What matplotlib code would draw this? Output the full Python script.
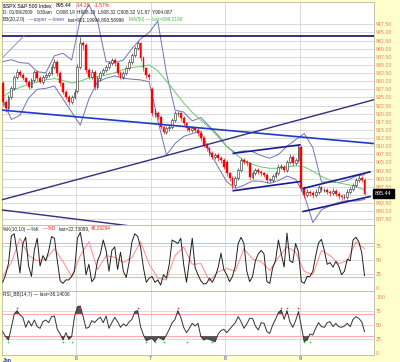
import matplotlib
matplotlib.use('Agg')
import matplotlib.pyplot as plt
import matplotlib.transforms as mtransforms
from matplotlib.ticker import FixedLocator, FormatStrFormatter
import numpy as np

# 15-minute bars, Jan 5 - Jan 9 2009 (26 bars per day)
opens = [929.3, 923.7, 921.6, 925.2, 927.8, 931.4, 932.9, 931.9, 930.9, 929.9,
         928.3, 930.4, 932.9, 930.9, 929.9, 931.4, 931.9, 932.4, 934.5, 936.0,
         932.4, 929.3, 926.8, 925.2, 923.7, 925.2, 927.0, 934.5, 941.6, 941.1,
         933.4, 931.4, 932.9, 928.3, 930.9, 932.4, 933.4, 934.5, 935.5, 936.5,
         935.5, 932.4, 931.4, 932.4, 934.0, 936.0, 938.1, 940.1, 941.6, 937.0,
         934.0, 931.9, 927.5, 920.1, 920.1, 919.1, 916.0, 914.5, 915.5, 916.0,
         918.1, 920.1, 920.1, 918.6, 917.0, 915.5, 915.0, 915.5, 915.0, 914.0,
         912.4, 910.4, 909.3, 907.8, 906.8, 907.3, 906.3, 905.7, 905.0, 901.6,
         900.1, 898.1, 900.1, 902.7, 905.7, 905.2, 904.7, 900.6, 901.6, 902.7,
         902.2, 901.6, 901.1, 899.6, 899.6, 900.8, 901.6, 903.7, 903.7, 902.7,
         905.2, 906.8, 904.7, 905.7, 909.9, 897.0, 895.0, 896.0, 895.5, 895.0,
         896.0, 897.3, 896.5, 896.5, 896.0, 895.5, 896.3, 895.3, 894.7, 894.3,
         894.5, 896.0, 896.7, 898.1, 899.6, 900.1, 899.6]
highs = [930.0, 924.3, 925.8, 928.5, 932.0, 933.6, 933.4, 932.5, 931.4, 930.5,
         931.0, 933.5, 933.3, 931.5, 932.0, 932.6, 933.0, 935.2, 936.8, 936.5,
         933.0, 929.8, 927.4, 925.8, 925.9, 927.5, 935.3, 943.7, 942.5, 941.6,
         934.0, 933.6, 933.3, 931.6, 933.0, 934.0, 935.1, 936.2, 937.2, 937.0,
         936.0, 933.0, 933.1, 934.6, 936.7, 938.8, 940.9, 942.3, 942.0, 937.6,
         934.5, 932.6, 928.2, 921.4, 920.8, 919.6, 916.6, 916.2, 916.7, 918.8,
         920.9, 920.8, 920.5, 919.2, 917.5, 916.1, 916.2, 916.0, 915.6, 914.6,
         913.0, 911.0, 909.9, 908.4, 908.0, 907.8, 906.9, 906.3, 905.7, 902.2,
         900.7, 900.8, 903.4, 906.5, 906.3, 905.8, 905.2, 902.3, 903.3, 903.2,
         902.8, 902.1, 901.7, 900.3, 901.4, 902.3, 904.5, 904.4, 904.2, 905.9,
         907.5, 907.3, 906.4, 910.6, 910.3, 897.8, 896.7, 896.6, 896.2, 896.7,
         898.0, 897.9, 897.2, 897.1, 896.6, 897.0, 896.9, 895.9, 895.3, 895.2,
         896.7, 897.4, 898.8, 900.3, 901.2, 900.8, 900.2]
lows = [922.5, 920.6, 921.0, 924.6, 927.2, 930.7, 931.2, 930.3, 929.2, 927.6,
        927.8, 929.7, 930.2, 929.3, 929.2, 930.8, 931.2, 931.8, 933.9, 931.7,
        928.6, 926.1, 924.5, 922.7, 923.0, 924.6, 926.3, 933.8, 939.5, 932.6,
        930.7, 930.8, 927.3, 927.7, 930.2, 931.8, 932.8, 933.9, 934.9, 934.8,
        931.6, 930.7, 930.8, 931.8, 933.4, 935.4, 937.5, 939.5, 936.3, 933.2,
        931.1, 930.3, 919.2, 918.9, 918.3, 915.2, 913.6, 913.9, 914.8, 915.4,
        917.5, 919.3, 917.9, 916.3, 914.8, 914.3, 914.4, 914.3, 913.2, 911.6,
        909.6, 908.5, 907.0, 906.0, 906.1, 905.5, 904.9, 902.9, 900.8, 899.3,
        896.9, 897.4, 899.5, 902.0, 904.5, 904.0, 899.8, 899.9, 901.0, 901.5,
        900.9, 900.4, 898.8, 898.9, 899.0, 900.1, 901.0, 903.0, 902.0, 902.1,
        904.6, 904.0, 904.1, 905.1, 896.2, 894.0, 894.4, 894.8, 894.2, 894.3,
        895.4, 895.8, 895.8, 895.3, 894.8, 894.9, 894.6, 893.9, 893.5, 893.6,
        893.9, 895.4, 896.1, 897.5, 899.0, 898.9, 895.0]
closes = [923.7, 921.6, 925.2, 927.8, 931.4, 932.9, 931.9, 930.9, 929.9, 928.3,
          930.4, 932.9, 930.9, 929.9, 931.4, 931.9, 932.4, 934.5, 936.0, 932.4,
          929.3, 926.8, 925.2, 923.7, 925.2, 926.8, 934.5, 941.6, 941.1, 933.4,
          931.4, 932.9, 928.3, 930.9, 932.4, 933.4, 934.5, 935.5, 936.5, 935.5,
          932.4, 931.4, 932.4, 934.0, 936.0, 938.1, 940.1, 941.6, 937.0, 934.0,
          931.9, 931.4, 920.1, 920.1, 919.1, 916.0, 914.5, 915.5, 916.0, 918.1,
          920.1, 920.1, 918.6, 917.0, 915.5, 915.0, 915.5, 915.0, 914.0, 912.4,
          910.4, 909.3, 907.8, 906.8, 907.3, 906.3, 905.7, 903.7, 901.6, 900.1,
          898.1, 900.1, 902.7, 905.7, 905.2, 904.7, 900.6, 901.6, 902.7, 902.2,
          901.6, 901.1, 899.6, 899.6, 900.8, 901.6, 903.7, 903.7, 902.7, 905.2,
          906.8, 904.7, 905.7, 909.9, 897.0, 895.0, 896.0, 895.5, 895.0, 896.0,
          897.3, 896.5, 896.5, 896.0, 895.5, 896.3, 895.3, 894.7, 894.3, 894.5,
          896.0, 896.7, 898.1, 899.6, 900.1, 899.6, 895.44]

# overlays sampled every 3 bars
band_x = list(range(0, 127, 3))
bb_upper = [936.0, 936.6, 935.7, 935.5, 932.9, 932.6, 937.8, 938.6, 936.5, 949.0,
            953.5, 948.5, 936.0, 935.7, 936.5, 940.0, 943.0, 945.0, 948.5, 932.5,
            921.1, 920.5, 917.8, 918.8, 916.1, 913.4, 909.9, 908.0, 908.6, 908.3,
            907.1, 906.3, 907.4, 910.0, 912.0, 913.9, 909.5, 899.0, 899.0, 898.8,
            899.5, 900.8, 901.2]
bb_lower = [924.2, 918.2, 919.5, 924.8, 927.5, 927.8, 928.5, 924.5, 920.5, 916.5,
            924.5, 929.8, 930.9, 931.6, 930.9, 930.6, 930.4, 929.8, 918.0, 907.3,
            910.8, 913.0, 913.9, 914.5, 908.5, 903.6, 899.1, 897.0, 898.0, 899.3,
            899.2, 898.6, 899.4, 900.8, 899.8, 895.0, 886.5, 890.4, 891.7, 892.7,
            893.3, 893.1, 893.6]
ma50 = [925.2, 927.0, 928.1, 929.0, 929.7, 930.4, 930.8, 930.2, 929.4, 930.0,
        931.0, 931.3, 931.9, 932.6, 933.6, 934.2, 934.5, 935.0, 933.2, 930.0,
        926.7, 923.3, 920.4, 918.0, 915.6, 912.9, 909.9, 907.6, 905.6, 904.4,
        903.6, 903.2, 903.2, 903.6, 904.0, 903.6, 902.3, 900.7, 899.5, 898.7,
        898.2, 897.6, 896.5]

stoch_k = [10.7, 24.3, 44.1, 93.6, 97.3, 64.5, 27.4, 80.0, 91.1, 39.8,
           21.2, 67.6, 89.3, 39.8, 58.3, 49.1, 66.4, 92.4, 89.3, 49.1,
           13.2, 8.9, 15.0, 15.0, 21.2, 30.5, 89.3, 99.8, 70.7, 24.3,
           42.9, 11.9, 18.1, 49.1, 61.4, 86.2, 67.6, 30.5, 67.6, 73.8,
           33.6, 64.5, 30.5, 19.4, 46.0, 83.1, 97.3, 92.4, 73.8, 36.7,
           10.7, 18.1, 21.2, 10.7, 15.0, 5.8, 24.3, 18.1, 42.9, 86.2,
           83.1, 80.0, 89.3, 42.9, 10.7, 49.1, 89.3, 36.7, 24.3, 13.2,
           7.6, 8.9, 18.1, 10.7, 21.2, 36.7, 62.7, 33.6, 24.3, 11.9,
           21.2, 39.8, 80.0, 91.1, 80.0, 30.5, 11.9, 21.2, 49.1, 61.4,
           67.6, 61.4, 11.9, 8.9, 36.7, 49.1, 86.2, 61.4, 37.9, 98.5,
           49.1, 46.0, 80.0, 64.5, 11.9, 8.9, 21.2, 21.2, 30.5, 58.3,
           81.2, 87.4, 67.6, 42.9, 46.0, 37.9, 47.8, 39.8, 24.3, 30.5,
           52.1, 49.1, 86.2, 91.1, 83.1, 64.5, 22.7]
stoch_d = [21.2, 46.0, 89.3, 58.3, 49.1, 52.1, 70.7, 47.8, 21.2, 58.3,
           83.1, 33.6, 58.3, 55.2, 46.0, 55.2, 83.1, 42.9, 18.1, 15.0,
           58.3, 73.8, 42.9, 44.1, 13.2, 29.3, 35.4, 30.5, 70.7, 52.1,
           47.8, 31.7, 55.2, 73.8, 64.5, 30.5, 24.3, 67.6, 58.3, 44.1,
           49.1, 83.1, 70.7]

rsi = [38.0, 28.9, 22.9, 45.8, 69.9, 75.9, 68.1, 63.9, 45.8, 57.8,
       48.2, 59.0, 47.0, 44.0, 56.0, 59.0, 54.2, 65.1, 66.3, 42.2,
       33.7, 22.9, 36.1, 24.1, 28.9, 65.1, 83.1, 84.3, 65.1, 44.0,
       45.8, 57.8, 54.2, 60.2, 63.9, 54.2, 66.3, 44.0, 54.2, 63.9,
       56.0, 45.8, 51.8, 48.2, 55.4, 60.2, 74.1, 75.9, 47.0, 31.9,
       21.7, 24.1, 25.9, 19.9, 27.7, 25.9, 22.9, 31.9, 42.2, 54.2,
       60.2, 75.9, 63.9, 45.8, 36.1, 44.0, 53.0, 48.2, 53.0, 28.9,
       22.9, 25.3, 24.1, 21.7, 19.9, 33.7, 39.8, 42.2, 36.1, 42.2,
       48.2, 54.2, 65.1, 56.0, 44.0, 51.8, 62.0, 62.0, 48.2, 41.0,
       54.2, 53.0, 38.0, 34.9, 50.0, 60.2, 72.3, 77.1, 60.2, 75.9,
       56.0, 45.8, 57.8, 74.1, 47.0, 19.9, 22.9, 33.7, 31.9, 44.0,
       54.2, 47.0, 45.8, 54.2, 56.0, 47.0, 53.0, 47.0, 45.8, 48.2,
       53.0, 47.0, 60.2, 65.1, 62.0, 56.0, 38.14]
rsi_hi_marks = [5, 27, 47, 61, 97, 99, 103]
rsi_lo_marks = [2, 21, 24, 50, 53, 56, 64, 73, 105, 107]

day_starts = [25.5, 51.5, 77.5, 103.5]
day_labels = ['6', '7', '8', '9']

# hand-drawn trend lines: (bar0, price0, bar1, price1)
trend_lines = [(-0.3, 944.0, 129.3, 944.0),
               (-0.3, 921.1, 129.3, 910.8),
               (-0.3, 893.5, 129.3, 924.3),
               (-0.3, 890.4, 129.3, 876.1),
               (80.3, 907.8, 103.5, 910.4),
               (80.3, 896.3, 103.5, 899.1),
               (104.6, 897.0, 127.9, 902.1),
               (104.6, 889.9, 127.9, 894.5),
               (0.2, 937.5, 7.7, 944.2)]
trend_colors = ['#101060', '#2038d0', '#303080', '#303080', '#1a1a90',
                '#1a1a90', '#1a1a90', '#1a1a90', '#8080c0']
trend_widths = [1.2, 1.2, 1.0, 1.0, 1.2, 1.2, 1.2, 1.2, 0.6]

W, H = 400, 362
plt.rcParams['font.family'] = ['Liberation Sans', 'DejaVu Sans']
fig = plt.figure(figsize=(W / 100, H / 100), dpi=100, facecolor='#ffffcc')


def panel(top, bottom):
    return fig.add_axes([2 / W, 1 - bottom / H, 372 / W, (bottom - top) / H])


ax1 = panel(2, 225)
ax2 = panel(225, 291)
ax3 = panel(291, 355)

label_color = '#e8806a'
grid_color = '#d4d4d4'
for ax in (ax1, ax2, ax3):
    ax.set_facecolor('white')
    ax.set_xlim(-0.26, 129.3)
    for s in ax.spines.values():
        s.set_color('#b8b8a0')
        s.set_linewidth(0.6)
    ax.yaxis.tick_right()
    ax.tick_params(axis='y', length=0, pad=1.5, labelsize=3.8, labelcolor=label_color)
    ax.tick_params(axis='x', length=0)
    for d in day_starts:
        ax.axvline(d, color=grid_color, lw=0.6, zorder=0)

# price panel
ax1.set_ylim(885.75, 954.36)
grid_ticks = np.arange(887.5, 948, 2.5)
label_ticks = [t for t in grid_ticks if abs(t - 895.0) > 0.1]
ax1.yaxis.set_major_locator(FixedLocator(label_ticks))
ax1.yaxis.set_major_formatter(FormatStrFormatter('%.2f'))
for t in grid_ticks:
    ax1.axhline(t, color=grid_color, lw=0.6, zorder=0)
ax1.set_xticks([])

x = np.arange(len(closes))
o = np.array(opens)
c = np.array(closes)
up = c >= o
ax1.vlines(x, lows, highs, color=np.where(up, '#222222', '#ff0000'), lw=0.45, zorder=3)
ax1.bar(x[~up], (o - c)[~up], bottom=c[~up], width=0.65, color='#ff0000',
        edgecolor='#ff0000', lw=0.3, zorder=4)
ax1.bar(x[up], np.maximum(c - o, 0.15)[up], bottom=o[up], width=0.65, color='white',
        edgecolor='#222222', lw=0.4, zorder=4)

ax1.plot(band_x, bb_upper, color='#7272b8', lw=0.7, zorder=2)
ax1.plot(band_x, bb_lower, color='#7272b8', lw=0.7, zorder=2)
ax1.plot(band_x, ma50, color='#66cc66', lw=0.7, zorder=2)

for (x0, y0, x1, y1), col, lw in zip(trend_lines, trend_colors, trend_widths):
    ax1.plot([x0, x1], [y0, y1], color=col, lw=lw, zorder=5)

trans = mtransforms.blended_transform_factory(ax1.transAxes, ax1.transData)
ax1.text(1.003, closes[-1], f'{closes[-1]:.2f}', transform=trans, fontsize=3.9,
         color='white', va='center', ha='left', zorder=10, clip_on=False,
         bbox=dict(boxstyle='square,pad=0.35', fc='black', ec='black'))

# stochastic panel
ax2.set_ylim(-4.8, 113)
ax2.set_yticks([0, 25, 50, 75])
ax2.set_xticks([])
for lv in (25, 50, 75):
    ax2.axhline(lv, color=grid_color, lw=0.6, zorder=0)
for lv in (20, 80):
    ax2.axhline(lv, color='#ffaaaa', lw=0.7, zorder=1)
ax2.plot(band_x, stoch_d, color='#ff8a8a', lw=0.7, zorder=2)
ax2.plot(x, stoch_k, color='#202020', lw=0.7, zorder=3)

# RSI panel
ax3.set_ylim(-4.2, 111.4)
ax3.set_yticks([0, 25, 50, 75, 100])
for lv in (25, 50, 75):
    ax3.axhline(lv, color=grid_color, lw=0.6, zorder=0)
for lv in (30, 70):
    ax3.axhline(lv, color='#ffaaaa', lw=0.8, zorder=1)
r = np.array(rsi)
ax3.fill_between(x, r, 70, where=r > 70, interpolate=True, color='#555555', lw=0, zorder=2)
ax3.fill_between(x, r, 30, where=r < 30, interpolate=True, color='#555555', lw=0, zorder=2)
ax3.plot(x, r, color='#333333', lw=0.7, zorder=3)
ax3.plot(rsi_hi_marks, [80] * len(rsi_hi_marks), 'o', color='#ff3030', ms=1.2, mew=0, zorder=4)
ax3.plot(rsi_lo_marks, [19] * len(rsi_lo_marks), 'o', color='#22cc22', ms=1.2, mew=0, zorder=4)
ax3.set_xticks(day_starts)
ax3.set_xticklabels(day_labels)
ax3.tick_params(axis='x', labelsize=3.8, labelcolor='#2233cc', pad=1)
ax3.text(0.002, -0.045, 'Jan', transform=ax3.transAxes, fontsize=3.8,
         color='#2233cc', va='top', ha='left', fontweight='bold')

# header texts, placed one after another in pixel units
fig.canvas.draw()
renderer = fig.canvas.get_renderer()


def chain(py, parts, px=3, size=3.4):
    for s, col in parts:
        if s.startswith(' '):
            px += 3
            s = s.lstrip()
        t = fig.text(px / W, 1 - py / H, s, va='center', ha='left', fontsize=size, color=col)
        px = t.get_window_extent(renderer=renderer).x1 + 1


red = '#ff2020'
dark = '#202020'
chain(5.5, [('$SPX S&P 500 Index', 'black'), (' 895.44', 'black'),
            (' -14.29', red), (' -1.57%', red)], size=3.7)
chain(12.5, [('D: 01/09/2009', dark), (' 9:30am', dark), (' O:908.19', dark),
             ('H:908.19', dark), ('L:908.32', dark), ('C:908.32', dark),
             ('V:1.87', dark), ('Y:904.087', dark)])
chain(19.5, [('BB(20,2.0)', dark), (' \u2014upper', '#5050b0'), ('\u2014lower', '#5050b0'),
             (' last=901.19994,893.58996', dark), (' MA(50) \u2014 last=896.2188', '#44bb44')])
chain(229, [('%K(10,10) \u2014%K', dark), (' \u2014%D', red),
            (' last=22.73089,', dark), ('48.29294', red)])
chain(294.5, [('RSI_BB(14,7) \u2014 last=38.14006', dark)])

plt.savefig('out.png', dpi=100, facecolor=fig.get_facecolor())
plt.close()
